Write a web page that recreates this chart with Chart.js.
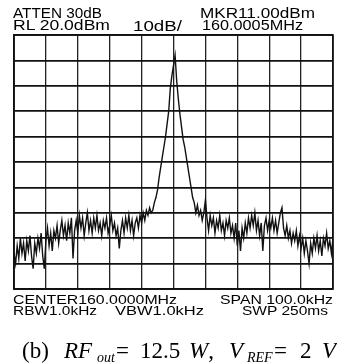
<!DOCTYPE html>
<html><head><meta charset="utf-8">
<script src="https://cdn.jsdelivr.net/npm/chart.js@4"></script>
<style>
html,body{margin:0;padding:0;background:#fff;}
#wrap{position:relative;width:337px;height:364px;overflow:hidden;background:#fff;}
#c{position:absolute;left:0;top:0;}
.t{position:absolute;font-family:"Liberation Sans",Arial,sans-serif;font-size:14px;line-height:1;color:#000;white-space:nowrap;transform-origin:0 0;}
.f{font-size:13px;}
.c{position:absolute;top:339px;font-family:"Liberation Serif","Times New Roman",serif;font-size:23px;line-height:1;white-space:nowrap;color:#000;}
.c.s{font-size:14px;top:351px;}
</style></head>
<body>
<div id="wrap">
<canvas id="c" width="337" height="364"></canvas>
<div class="t" style="left:13px;top:6px" data-w="89">ATTEN 30dB</div>
<div class="t" style="left:13px;top:18px" data-w="97">RL 20.0dBm</div>
<div class="t" style="left:133px;top:19px" data-w="49">10dB/</div>
<div class="t" style="left:200px;top:6px" data-w="115">MKR11.00dBm</div>
<div class="t" style="left:202px;top:18px" data-w="101">160.0005MHz</div>
<div class="t f" style="left:13px;top:293px" data-w="164">CENTER160.0000MHz</div>
<div class="t f" style="left:220px;top:293px" data-w="113">SPAN 100.0kHz</div>
<div class="t f" style="left:13px;top:304px" data-w="84">RBW1.0kHz</div>
<div class="t f" style="left:115px;top:304px" data-w="89">VBW1.0kHz</div>
<div class="t f" style="left:242px;top:304px" data-w="86">SWP 250ms</div>
<span class="c" style="left:22px">(b)</span>
<span class="c" style="left:64px"><i>RF</i></span>
<span class="c s" style="left:97px"><i>out</i></span>
<span class="c" style="left:116px">=</span>
<span class="c" style="left:140px">12.5</span>
<span class="c" style="left:189px"><i>W</i>,</span>
<span class="c" style="left:229px"><i>V</i></span>
<span class="c s" style="left:247px"><i>REF</i></span>
<span class="c" style="left:274px">=</span>
<span class="c" style="left:300px">2</span>
<span class="c" style="left:322px"><i>V</i></span>
</div>
<script>
// Spectrum analyzer trace, sweep -50..+50 kHz around 160.0000 MHz, 0.5 kHz per point
const sweepStartKHz = -50;
const sweepStepKHz = 0.5;
// levels in dBm
const noiseLeft = [
 -66,-70,-63,-68,-60,-66,-62,-69,-61,-65,
 -59,-67,-72,-62,-66,-60,-64,-58,-67,-72,
 -61,-56,-63,-58,-65,-57,-60,-55,-62,-57,
 -53,-59,-55,-61,-54,-58,-52,-68,-57,-53,
 -58,-51,-56,-52,-59,-54,-50,-57,-53,-58,
 -52,-56,-51,-57,-54,-59,-53,-56,-52,-58,
 -55,-51,-57,-54,-59,-56,-64,-57,-53,-58,
 -52,-56,-51,-57,-53,-59,-54,-52,-56,-51,
 -54,-50,-53,-49,-51,-48];
const carrier = [
 -50,-49,-46,-44,-41,-36,-32,-28,-24,-20,-15,-10,-1,4,8,12,
 2,-5,-11,-16,-21,-24,-28,-32,-36,-40,-44,-46,-50];
const noiseRight = [
 -47,-51,-49,-53,-50,-45,-52,-57,-51,-55,
 -52,-58,-53,-56,-51,-57,-54,-59,-53,-56,
 -52,-58,-55,-60,-54,-63,-57,-65,-56,-60,
 -54,-58,-52,-56,-51,-55,-50,-57,-53,-59,
 -54,-65,-55,-52,-57,-53,-56,-52,-57,-53,
 -58,-54,-50,-48,-56,-59,-55,-60,-57,-62,
 -58,-61,-57,-63,-59,-64,-60,-66,-61,-65,
 -70,-62,-66,-60,-64,-59,-65,-61,-67,-60,
 -63,-58,-64,-61,-66,-60];
const levels = noiseLeft.concat(carrier, noiseRight);
const freqs = levels.map((_, i) => sweepStartKHz + i * sweepStepKHz);
const xRange = [-50, 50];   // kHz, 10 kHz/div
const yRange = [-80, 20];   // dBm, RL 20 dBm, 10 dB/div

new Chart(document.getElementById('c'), {
  type: 'line',
  data: {
    datasets: [{
      data: freqs.map((f, i) => ({x: f, y: levels[i]})),
      borderColor: '#111',
      borderWidth: 1.4,
      pointRadius: 0,
      tension: 0,
      fill: false
    }]
  },
  options: {
    responsive: false,
    animation: false,
    devicePixelRatio: 1,
    layout: {padding: {left: 14, top: 35, right: 4, bottom: 75}},
    plugins: {legend: {display: false}, tooltip: {enabled: false}},
    scales: {
      x: {
        type: 'linear', min: xRange[0], max: xRange[1],
        ticks: {display: false, stepSize: 10},
        grid: {color: '#222', lineWidth: 1.3, drawTicks: false},
        border: {display: true, color: '#111', width: 1.6}
      },
      y: {
        type: 'linear', min: yRange[0], max: yRange[1],
        ticks: {display: false, stepSize: 10},
        grid: {color: '#111', lineWidth: 1.7, drawTicks: false},
        border: {display: true, color: '#111', width: 1.6}
      }
    }
  },
  plugins: [{
    id: 'frame',
    afterDraw(chart) {
      const a = chart.chartArea, ctx = chart.ctx;
      ctx.save();
      ctx.strokeStyle = '#111';
      ctx.lineWidth = 1.6;
      ctx.strokeRect(a.left, a.top, a.right - a.left, a.bottom - a.top);
      ctx.restore();
    }
  }]
});

document.querySelectorAll('.t').forEach(el => {
  const w = parseFloat(el.dataset.w);
  const r = el.getBoundingClientRect().width;
  el.style.transform = 'scaleX(' + (w / r) + ')';
});
</script>
</body></html>
